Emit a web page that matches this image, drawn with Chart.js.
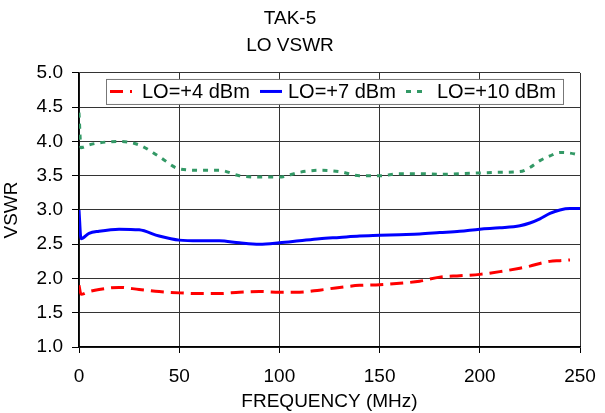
<!DOCTYPE html>
<html>
<head>
<meta charset="utf-8">
<script src="https://cdn.jsdelivr.net/npm/chart.js@4"></script>
<style>
  body { margin: 0; background: #fff; }
</style>
</head>
<body>
<canvas id="vswrChart" width="605" height="413"></canvas>
<script>
const freq = [0, 1, 5, 10, 20, 30, 40, 50, 60, 70, 80, 90, 100, 110, 120, 130, 140, 150, 160, 170, 180, 190, 200, 210, 220, 225, 230, 235, 240, 245, 250];
const lo4 = [1.90, 1.77, 1.81, 1.84, 1.87, 1.84, 1.81, 1.79, 1.78, 1.78, 1.80, 1.81, 1.80, 1.80, 1.83, 1.87, 1.90, 1.91, 1.93, 1.96, 2.02, 2.04, 2.06, 2.10, 2.15, 2.18, 2.22, 2.25, 2.26, 2.27, null];
const lo7 = [3.00, 2.58, 2.66, 2.69, 2.72, 2.71, 2.62, 2.56, 2.55, 2.55, 2.52, 2.50, 2.52, 2.55, 2.58, 2.60, 2.62, 2.63, 2.64, 2.65, 2.67, 2.69, 2.72, 2.74, 2.77, 2.81, 2.87, 2.95, 3.00, 3.02, 3.02];
const lo10 = [4.42, 3.91, 3.95, 3.98, 4.00, 3.95, 3.78, 3.60, 3.58, 3.58, 3.50, 3.48, 3.48, 3.55, 3.58, 3.56, 3.50, 3.50, 3.53, 3.53, 3.52, 3.53, 3.54, 3.55, 3.56, 3.62, 3.72, 3.79, 3.84, 3.83, 3.80];
const seriesNames = ['LO=+4 dBm', 'LO=+7 dBm', 'LO=+10 dBm'];

const FONT = 'Liberation Sans, Arial, sans-serif';

function points(ys) {
  return freq.map((f, i) => ({ x: f, y: ys[i] }));
}

// legend drawn inside the plot, boxed, like the original
const boxLegend = {
  id: 'boxLegend',
  afterDatasetsDraw(chart) {
    const ctx = chart.ctx;
    const area = chart.chartArea;
    const x0 = area.left + 27, y0 = area.top + 6, w = 457, h = 25;
    ctx.save();
    ctx.fillStyle = '#fff';
    ctx.fillRect(x0, y0, w, h);
    ctx.strokeStyle = '#777';
    ctx.lineWidth = 1;
    ctx.strokeRect(x0 + 0.5, y0 + 0.5, w, h);
    const offsets = [4, 154, 300];
    const textGap = [32, 28, 31];
    ctx.font = '20px ' + FONT;
    ctx.textBaseline = 'middle';
    chart.data.datasets.forEach((ds, i) => {
      const sx = x0 + offsets[i];
      ctx.strokeStyle = ds.borderColor;
      ctx.lineWidth = ds.borderWidth;
      ctx.setLineDash(ds.borderDash || []);
      ctx.beginPath();
      ctx.moveTo(sx, y0 + h / 2);
      ctx.lineTo(sx + 22, y0 + h / 2);
      ctx.stroke();
      ctx.setLineDash([]);
      ctx.fillStyle = '#000';
      ctx.fillText(ds.label, sx + textGap[i], y0 + h / 2 + 1);
    });
    ctx.restore();
  }
};

const ctx = document.getElementById('vswrChart').getContext('2d');
new Chart(ctx, {
  type: 'line',
  data: {
    datasets: [{
      label: seriesNames[0],
      data: points(lo4),
      borderColor: '#ff0000',
      borderWidth: 3,
      borderDash: [13, 7]
    }, {
      label: seriesNames[1],
      data: points(lo7),
      borderColor: '#0000ff',
      borderWidth: 3
    }, {
      label: seriesNames[2],
      data: points(lo10),
      borderColor: '#339966',
      borderWidth: 3,
      borderDash: [5, 6]
    }]
  },
  options: {
    responsive: false,
    animation: false,
    devicePixelRatio: 1,
    spanGaps: false,
    elements: { point: { radius: 0 }, line: { tension: 0.3, cubicInterpolationMode: 'monotone' } },
    layout: { padding: { top: 5, right: 25, left: 0, bottom: 0 } },
    plugins: {
      legend: { display: false },
      tooltip: { enabled: false },
      title: {
        display: true,
        text: ['TAK-5', 'LO VSWR'],
        color: '#000',
        font: { family: FONT, size: 19, weight: 'normal', lineHeight: 1.42 },
        padding: { top: 0, bottom: 14 }
      }
    },
    scales: {
      x: {
        type: 'linear',
        min: 0,
        max: 250,
        ticks: { stepSize: 50, color: '#000', font: { family: FONT, size: 19 }, padding: 12, maxRotation: 0 },
        grid: { color: '#333', tickLength: 6, tickColor: '#000' },
        border: { color: '#000', width: 1.5 },
        title: { display: true, text: 'FREQUENCY (MHz)', color: '#000', font: { family: FONT, size: 19 }, padding: { top: 0, bottom: 0 } },
        afterFit(scale) {
          scale.height = 66;
          scale.paddingRight = 16;
          scale.paddingLeft = 0;
        }
      },
      y: {
        min: 1,
        max: 5,
        ticks: { stepSize: 0.5, color: '#000', font: { family: FONT, size: 19 }, padding: 9, callback: v => v.toFixed(1) },
        grid: { color: '#333', tickLength: 7, tickColor: '#000' },
        border: { color: '#000', width: 1.5 },
        title: { display: true, text: 'VSWR', color: '#000', font: { family: FONT, size: 19 }, padding: { top: 0, bottom: 0 } },
        afterFit(scale) { scale.width = 79; }
      }
    }
  },
  plugins: [boxLegend]
});
</script>
</body>
</html>
